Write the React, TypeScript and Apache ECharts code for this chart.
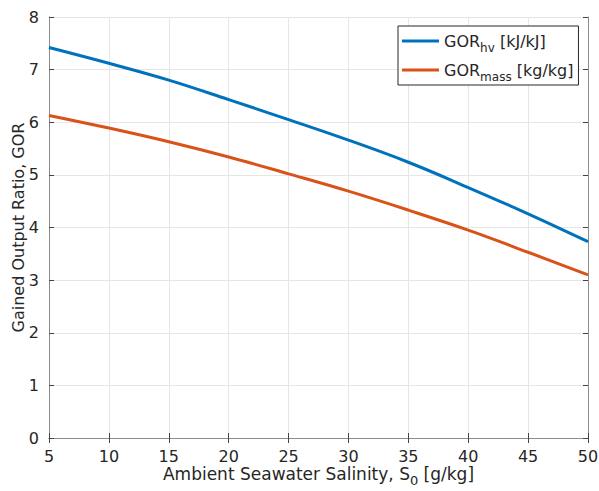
import React, { useEffect, useRef } from "react";
import * as echarts from "echarts";

const salinity = [5, 10, 15, 20, 25, 30, 35, 40, 45, 50];
const gorHv = [7.42, 7.12, 6.8, 6.43, 6.05, 5.66, 5.24, 4.76, 4.26, 3.73];
const gorMass = [6.13, 5.89, 5.63, 5.34, 5.02, 4.69, 4.33, 3.95, 3.53, 3.1];
const xTicks = [5, 10, 15, 20, 25, 30, 35, 40, 45, 50];
const yTicks = [0, 1, 2, 3, 4, 5, 6, 7, 8];

const FONT = "DejaVu Sans, Liberation Sans, Arial, sans-serif";
const TXT = "#262626";
const AX = "#8c8c8c";

export default function App() {
  const ref = useRef<HTMLDivElement>(null);
  useEffect(() => {
    if (!ref.current) return;
    const chart = echarts.init(ref.current, null, { renderer: "svg" });
    const toPairs = (ys: number[]) => salinity.map((x, i) => [x, ys[i]]);
    const tickCommon = { show: true, inside: true, length: 5, lineStyle: { color: "#444", width: 1 } };
    chart.setOption({
      animation: false,
      backgroundColor: "#ffffff",
      textStyle: { fontFamily: FONT },
      grid: { left: 49, right: 11, top: 17, bottom: 53, containLabel: false, outerBoundsMode: "none" },
      legend: {
        orient: "vertical",
        left: 398,
        top: 26,
        itemWidth: 37,
        itemHeight: 3,
        itemGap: 3,
        padding: [2, 5, 2, 4],
        borderColor: "#262626",
        borderWidth: 1,
        borderRadius: 0,
        backgroundColor: "#ffffff",
        icon: "rect",
        data: ["hv", "mass"],
        formatter: (name: string) =>
          name === "hv"
            ? "{m|GOR}{s|hv}{m| [kJ/kJ]}"
            : "{m|GOR}{s|mass}{m| [kg/kg]}",
        textStyle: {
          color: TXT,
          fontFamily: FONT,
          fontSize: 16,
          rich: {
            m: { fontSize: 16, lineHeight: 16, fontFamily: FONT, color: TXT },
            s: { fontSize: 12, lineHeight: 16, fontFamily: FONT, color: TXT, padding: [14, 0, 0, 0] },
          },
        },
      },
      xAxis: [
        {
          type: "value",
          min: 5,
          max: 50,
          interval: 5,
          position: "bottom",
          name: "{a|Ambient Seawater Salinity, S}{s|0}{a| [g/kg]}",
          nameLocation: "middle",
          nameGap: 27,
          nameMoveOverlap: false,
          nameTextStyle: {
            rich: {
              a: { fontSize: 17, lineHeight: 18, fontFamily: FONT, color: TXT },
              s: { fontSize: 13, lineHeight: 18, fontFamily: FONT, color: TXT, padding: [12, 0, 0, 0] },
            },
          },
          axisLine: { show: true, lineStyle: { color: AX, width: 1 } },
          axisTick: tickCommon,
          axisLabel: { color: TXT, fontSize: 16, fontFamily: FONT, margin: 10 },
          splitLine: { show: true, lineStyle: { color: "#e6e6e6", width: 1 } },
        },
        {
          type: "value",
          min: 5,
          max: 50,
          interval: 5,
          position: "top",
          axisLine: { show: true, lineStyle: { color: AX, width: 1 } },
          axisTick: tickCommon,
          axisLabel: { show: false },
          splitLine: { show: false },
        },
      ],
      yAxis: [
        {
          type: "value",
          min: 0,
          max: 8,
          interval: 1,
          position: "left",
          name: "Gained Output Ratio, GOR",
          nameLocation: "middle",
          nameGap: 23,
          nameMoveOverlap: false,
          nameTextStyle: { fontSize: 16, fontFamily: FONT, color: TXT },
          axisLine: { show: true, lineStyle: { color: AX, width: 1 } },
          axisTick: tickCommon,
          axisLabel: { color: TXT, fontSize: 16, fontFamily: FONT, margin: 10 },
          splitLine: { show: true, lineStyle: { color: "#e6e6e6", width: 1 } },
        },
        {
          type: "value",
          min: 0,
          max: 8,
          interval: 1,
          position: "right",
          axisLine: { show: true, lineStyle: { color: AX, width: 1 } },
          axisTick: tickCommon,
          axisLabel: { show: false },
          splitLine: { show: false },
        },
      ],
      series: [
        {
          name: "hv",
          type: "line",
          data: toPairs(gorHv),
          showSymbol: false,
          smooth: 0.4,
          lineStyle: { color: "#0072BD", width: 3 },
          itemStyle: { color: "#0072BD" },
        },
        {
          name: "mass",
          type: "line",
          data: toPairs(gorMass),
          showSymbol: false,
          smooth: 0.4,
          lineStyle: { color: "#D95319", width: 3 },
          itemStyle: { color: "#D95319" },
        },
      ],
    });
    return () => chart.dispose();
  }, []);
  return <div ref={ref} style={{ width: 599, height: 491, position: "absolute", left: 0, top: 0 }} />;
}
